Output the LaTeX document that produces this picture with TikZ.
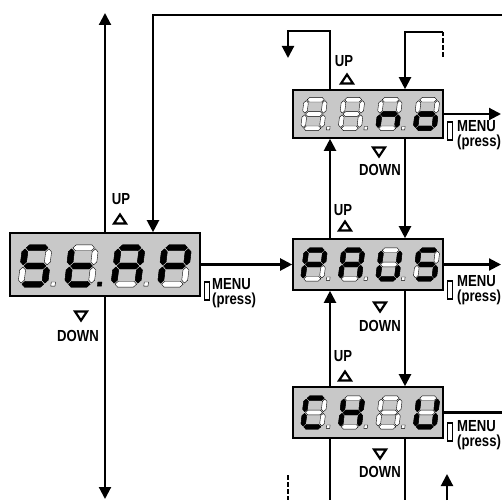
\documentclass[tikz,border=0pt]{standalone}
\usepackage{fontspec}
\setmainfont{Liberation Sans}[FakeStretch=0.82]
\usetikzlibrary{arrows.meta,positioning,calc}
\definecolor{lcd}{RGB}{200,200,200}

% segments of one digit, local units
\newcommand\hseg[2]{\filldraw[#1] (-0.77,#2) -- ++(0.21,-0.21) -- ++(1.12,0) -- ++(0.21,0.21) -- ++(-0.21,0.21) -- ++(-1.12,0) -- cycle;}
\newcommand\vseg[3]{\filldraw[#1] (#2,#3) -- ++(0.21,0.21) -- ++(0,0.72) -- ++(-0.21,0.21) -- ++(-0.21,-0.21) -- ++(0,-0.72) -- cycle;}
\newcommand\sega[1]{\hseg{#1}{-1.3}}
\newcommand\segb[1]{\vseg{#1}{0.85}{-1.22}}
\newcommand\segc[1]{\vseg{#1}{0.85}{0.08}}
\newcommand\segd[1]{\hseg{#1}{1.3}}
\newcommand\sege[1]{\vseg{#1}{-0.85}{0.08}}
\newcommand\segf[1]{\vseg{#1}{-0.85}{-1.22}}
\newcommand\segg[1]{\hseg{#1}{0}}
\newcommand\segnone[1]{}
\newcommand\lcddigit[4]{%
  \begin{scope}[shift={#1},x=#2,y=-#2,xslant=0.12]
    \foreach \s in {a,b,c,d,e,f,g}{\csname seg\s\endcsname{segoff}}
    \foreach \s in {#3}{\csname seg\s\endcsname{segon}}
    \filldraw[#4] (1.3,1.14) rectangle ++(0.3,0.3);
  \end{scope}}
\newcommand\uptri[1]{\draw[tri] #1 ++(-6,4.5) -- ++(12,0) -- ++(-6,-9) -- cycle;}
\newcommand\downtri[1]{\draw[tri] #1 ++(-6,-4.5) -- ++(12,0) -- ++(-6,9) -- cycle;}

\tikzset{
  link/.style={line width=2.1pt},
  arr/.style={-{Triangle[length=12pt,width=12pt]}},
  disp/.style={draw,line width=1.6pt,fill=lcd,inner sep=0pt},
  lbl/.style={font=\fontsize{16}{16}\selectfont\bfseries,inner sep=0pt},
  btn/.style={draw,line width=1.6pt,fill=white,minimum width=5pt,minimum height=18pt,inner sep=0pt},
  tri/.style={line width=2.2pt,fill=white,line join=miter},
  segon/.style={fill=black,draw=black,line width=0.4pt},
  segoff/.style={fill=white,draw=black,line width=0.4pt},
  nodot/.style={draw=none,fill=none},
}

\begin{document}
\begin{tikzpicture}[x=1pt,y=-1pt]
  \useasboundingbox (0,0) rectangle (502,500);
  \fill[white] (0,0) rectangle (502,500);

  % displays
  \node[disp,minimum width=190pt,minimum height=63pt] (stap) at (105,264.5) {};
  \node[disp,minimum width=150pt,minimum height=48pt] (no) at (368,114) {};
  \node[disp,minimum width=150pt,minimum height=51pt] (paus) at (368,264.5) {};
  \node[disp,minimum width=150pt,minimum height=51pt] (chsu) at (368,412.5) {};

  \lcddigit{(35,266)}{14pt}{a,f,g,c,d}{segoff}
  \lcddigit{(81.5,266)}{14pt}{f,e,g,d}{segon}
  \lcddigit{(128,266)}{14pt}{a,b,c,e,f,g}{segoff}
  \lcddigit{(174.5,266)}{14pt}{a,b,e,f,g}{nodot}

  \lcddigit{(314,114)}{11pt}{none}{segoff}
  \lcddigit{(351.5,114)}{11pt}{none}{segoff}
  \lcddigit{(389,114)}{11pt}{c,e,g}{segoff}
  \lcddigit{(426.5,114)}{11pt}{c,d,e,g}{nodot}

  \lcddigit{(314,264.5)}{11pt}{a,b,e,f,g}{segoff}
  \lcddigit{(351.5,264.5)}{11pt}{a,b,c,e,f,g}{segoff}
  \lcddigit{(389,264.5)}{11pt}{b,c,d,e,f}{segoff}
  \lcddigit{(426.5,264.5)}{11pt}{a,c,d,f,g}{nodot}

  \lcddigit{(314,412.5)}{11pt}{a,d,e,f}{segoff}
  \lcddigit{(351.5,412.5)}{11pt}{b,c,e,f,g}{segoff}
  \lcddigit{(389,412.5)}{11pt}{none}{segoff}
  \lcddigit{(426.5,412.5)}{11pt}{b,c,d,e,f}{nodot}

  % free ends
  \coordinate (topup) at (105,13);
  \coordinate (botdown) at (105,499);
  \coordinate (wrapl) at (502,15);
  \coordinate (backl) at (288,58);
  \coordinate (wrapr) at (443,57);
  \coordinate (noout) at (501,114);
  \coordinate (pausout) at (501,264.5);
  \coordinate (chsuout) at (502,412.5);
  \coordinate (exitl) at (330,500);
  \coordinate (exitr) at (405,500);
  \coordinate (dashl) at (288,475);
  \coordinate (wrapb) at (447,500);
  \coordinate (wrapbend) at (447,474);

  % connectors
  \draw[link,arr] (stap.north) -- (topup);
  \draw[link,arr] (stap.south) -- (botdown);
  \draw[link,arr] (wrapl) -| ([xshift=48pt]stap.north);
  \draw[link,arr] (stap) -- (paus);
  \draw[link,arr] ([xshift=-38pt]no.north) -- ++(0,-58) -| (backl);
  \draw[link,dash pattern=on 5pt off 2pt] (wrapr) -- ++(0,-25);
  \draw[link,arr] ([yshift=25pt]wrapr) -| ([xshift=37pt]no.north);
  \draw[link,arr] (no.east) -- (noout);
  \draw[link,arr] ([xshift=-38pt]paus.north) -- ([xshift=-38pt]no.south);
  \draw[link,arr] ([xshift=37pt]no.south) -- ([xshift=37pt]paus.north);
  \draw[link,arr] (paus.east) -- (pausout);
  \draw[link,arr] ([xshift=-38pt]chsu.north) -- ([xshift=-38pt]paus.south);
  \draw[link,arr] ([xshift=37pt]paus.south) -- ([xshift=37pt]chsu.north);
  \draw[link] (chsu.east) -- (chsuout);
  \draw[link] ([xshift=-38pt]chsu.south) -- (exitl);
  \draw[link] ([xshift=37pt]chsu.south) -- (exitr);
  \draw[link,dash pattern=on 5pt off 2pt] (dashl) -- ++(0,25);
  \draw[link,arr] (wrapb) -- (wrapbend);

  % keys
  \node[lbl] (upl) at (121,199) {UP};
  \uptri{(120,219)}
  \downtri{(81,316)}
  \node[lbl] (downl) at (78,336) {DOWN};
  \node[btn] (btnl) at (207,291) {};
  \node[lbl,anchor=west] (menul) at (212,284) {MENU};
  \node[lbl,anchor=west] (pressl) at (212,300) {(press)};

  \node[lbl] (upno) at (344,61) {UP};
  \uptri{(347,79)}
  \downtri{(379,152)}
  \node[lbl] (downno) at (380,170) {DOWN};
  \node[btn] (btnno) at (450,131) {};
  \node[lbl,anchor=west] (menuno) at (457,126) {MENU};
  \node[lbl,anchor=west] (pressno) at (457,142) {(press)};

  \node[lbl] (uppaus) at (343,210) {UP};
  \uptri{(345,226)}
  \downtri{(380,307)}
  \node[lbl] (downpaus) at (380,326) {DOWN};
  \node[btn] (btnpaus) at (450,290) {};
  \node[lbl,anchor=west] (menupaus) at (457,281) {MENU};
  \node[lbl,anchor=west] (presspaus) at (457,297) {(press)};

  \node[lbl] (upchsu) at (343,356) {UP};
  \uptri{(345,376)}
  \downtri{(380,454)}
  \node[lbl] (downchsu) at (380,472) {DOWN};
  \node[btn] (btnchsu) at (450,432) {};
  \node[lbl,anchor=west] (menuchsu) at (457,426) {MENU};
  \node[lbl,anchor=west] (presschsu) at (457,442) {(press)};
\end{tikzpicture}
\end{document}
